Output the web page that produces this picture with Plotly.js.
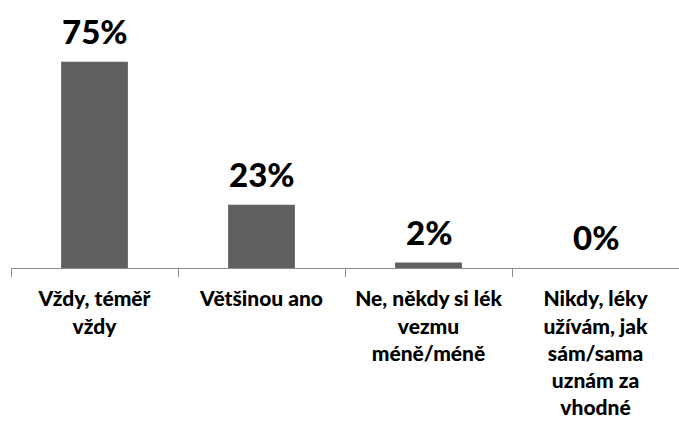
<!DOCTYPE html>
<html>
<head>
<meta charset="utf-8">
<script src="https://cdn.plot.ly/plotly-3.0.1.min.js"></script>
<style>html,body{margin:0;padding:0;background:#fff;}#chart{width:679px;height:423px;}</style>
</head>
<body>
<div id="chart"></div>
<script>
var categories = ["Vždy, téměř<br>vždy", "Většinou ano", "Ne, někdy si lék<br>vezmu<br>méně/méně", "Nikdy, léky<br>užívám, jak<br>sám/sama<br>uznám za<br>vhodné"];
var values = [75, 23, 2, 0];
var valueLabels = ["75%", "23%", "2%", "0%"];

var annotations = categories.map(function (c, i) {
  return {
    x: c, y: values[i], xref: 'x', yref: 'y',
    text: valueLabels[i], showarrow: false,
    yanchor: 'bottom', yshift: 9,
    font: {family: 'Lato, sans-serif', size: 33, color: '#000000', weight: 900}
  };
});

var trace = {
  type: 'bar',
  x: categories,
  y: values,
  width: 0.4,
  marker: {color: '#606060', line: {width: 0}},
  hoverinfo: 'none'
};

var layout = {
  width: 679, height: 423,
  margin: {l: 11, r: 0, t: 0, b: 155, pad: 0},
  paper_bgcolor: '#ffffff', plot_bgcolor: '#ffffff',
  showlegend: false,
  xaxis: {
    type: 'category',
    showline: true, linecolor: '#8c8c8c', linewidth: 1,
    ticks: 'outside', tickson: 'boundaries', ticklen: 8, tickcolor: '#8c8c8c',
    tickangle: 0,
    ticklabelstandoff: 12,
    tickfont: {family: 'Lato, sans-serif', size: 21, color: '#000000', weight: 900},
    showgrid: false, zeroline: false, fixedrange: true
  },
  yaxis: {
    range: [0, 97.5], visible: false, showgrid: false, zeroline: false, fixedrange: true
  },
  annotations: annotations
};

Plotly.newPlot('chart', [trace], layout, {displayModeBar: false, staticPlot: true});
</script>
</body>
</html>
